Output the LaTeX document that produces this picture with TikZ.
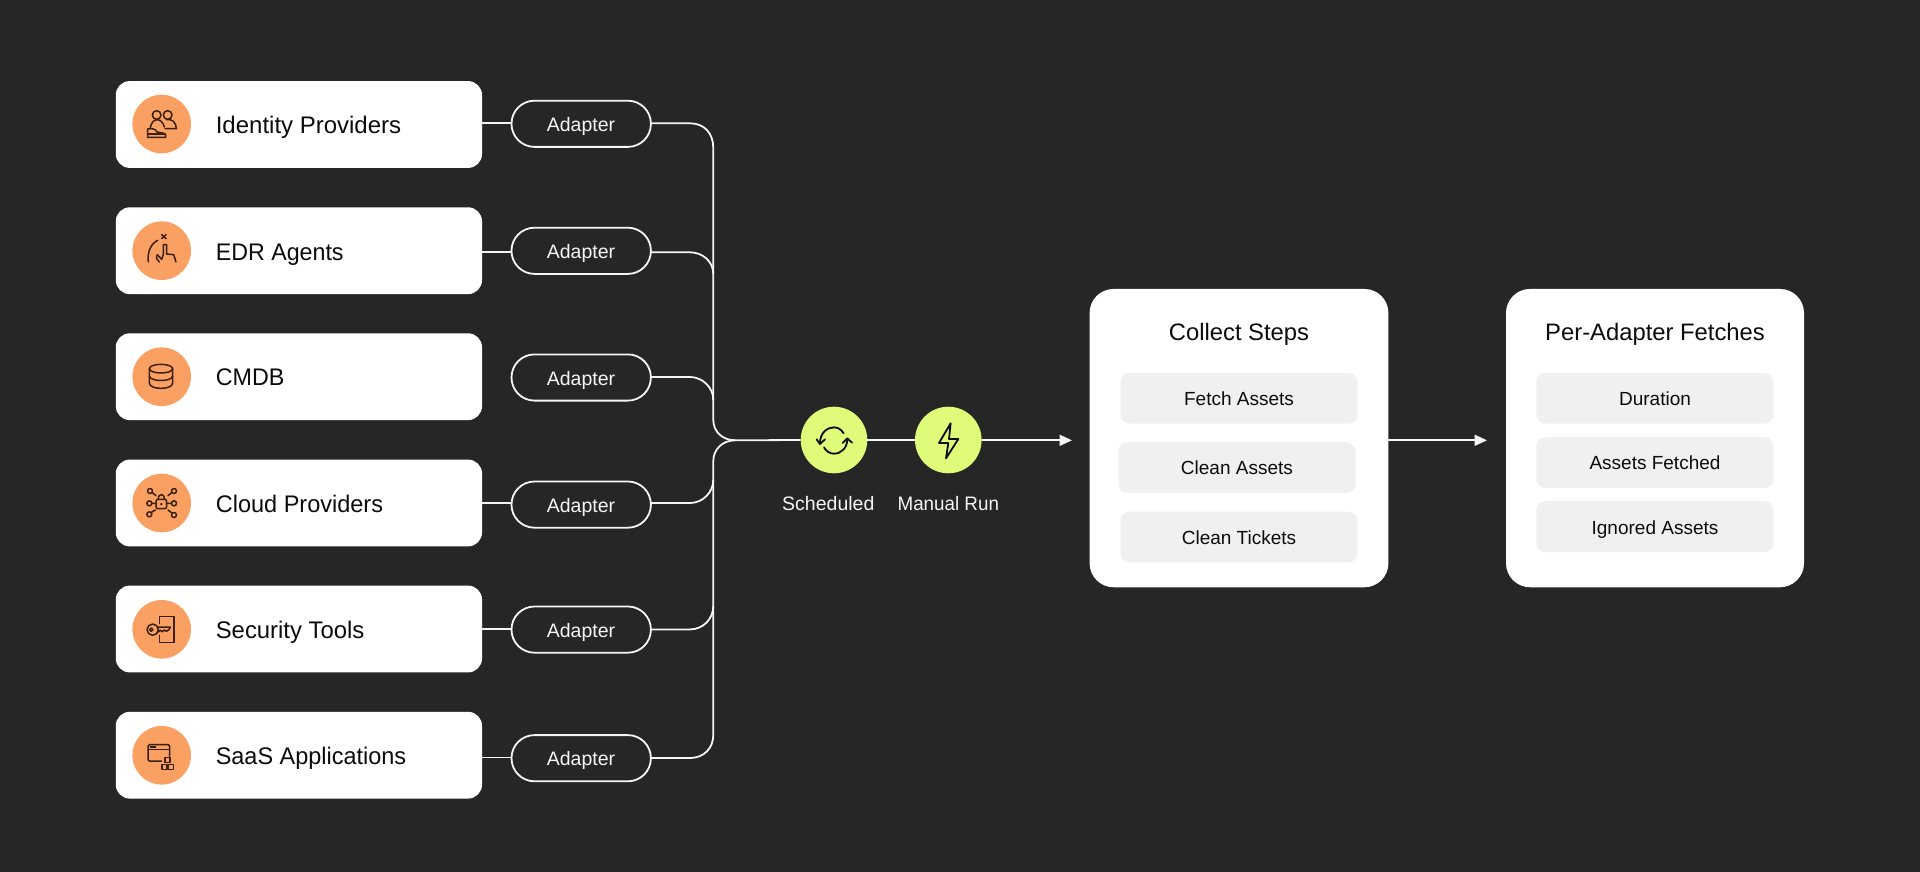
\documentclass[tikz,border=0pt]{standalone}
\usepackage{graphicx}
\usepackage{fontspec}
\setmainfont{Liberation Sans}
\usetikzlibrary{arrows.meta}
\definecolor{bgc}{RGB}{38,38,38}
\definecolor{orangec}{RGB}{250,160,98}
\definecolor{limec}{RGB}{224,250,122}
\definecolor{linec}{RGB}{245,245,245}
\definecolor{inkc}{RGB}{12,12,12}
\definecolor{brownc}{RGB}{58,32,14}
\definecolor{itemc}{RGB}{240,240,241}
\tikzset{
  card/.style={rectangle,fill=white,rounded corners=14pt,minimum width=366.3pt,minimum height=86.8pt,inner sep=0pt,outer sep=0pt},
  badge/.style={circle,fill=orangec,minimum size=58.6pt,inner sep=0pt,outer sep=0pt},
  trig/.style={circle,fill=limec,minimum size=66.6pt,inner sep=0pt,outer sep=0pt},
  pill/.style={rectangle,draw=linec,line width=1.8pt,fill=bgc,rounded corners=23pt,minimum width=139.4pt,minimum height=46.2pt,inner sep=0pt,outer sep=0pt},
  panel/.style={rectangle,fill=white,rounded corners=24pt,inner sep=0pt,outer sep=0pt},
  item/.style={rectangle,fill=itemc,rounded corners=9pt,minimum width=237pt,minimum height=50.8pt,inner sep=0pt,outer sep=0pt},
  cardtext/.style={anchor=base west,inner sep=0pt,text=inkc,font=\fontsize{24}{28}\selectfont},
  pilltext/.style={anchor=base,inner sep=0pt,text=linec,font=\fontsize{19.5}{23}\selectfont},
  trigtext/.style={anchor=base,inner sep=0pt,text=linec,font=\fontsize{19.5}{23}\selectfont},
  titletext/.style={anchor=base,inner sep=0pt,text=inkc,font=\fontsize{23.8}{27}\selectfont},
  itemtext/.style={anchor=base,inner sep=0pt,text=inkc,font=\fontsize{19}{23}\selectfont},
  link/.style={draw=linec,line width=1.8pt},
  arrowlink/.style={link,-{Triangle[length=12.5pt,width=11pt]}},
  ico/.style={draw=brownc,line width=1.5pt,line cap=round,line join=round},
  gico/.style={draw=inkc,line width=1.8pt,line cap=round,line join=round},
  crop/.style={x=.33333pt,y=-.33333pt}
}
\begin{document}
\begin{tikzpicture}[x=1pt,y=-1pt]
\useasboundingbox[fill=bgc] (0,0) rectangle (1920,872);
% cards
\node[card] (c1) at (298.9,124.5) {};
\node[card] (c2) at (298.9,250.7) {};
\node[card] (c3) at (298.9,376.7) {};
\node[card] (c4) at (298.9,503) {};
\node[card] (c5) at (298.9,629) {};
\node[card] (c6) at (298.9,755.2) {};
\node[badge] (b1) at (161.7,124) {};
\node[badge] (b2) at (161.7,250.7) {};
\node[badge] (b3) at (161.7,376.7) {};
\node[badge] (b4) at (161.7,503) {};
\node[badge] (b5) at (161.7,629.3) {};
\node[badge] (b6) at (161.7,755.3) {};
\node[cardtext] (t1) at (215.6,133.4) {Identity Providers};
\node[cardtext] (t2) at (215.6,260) {\scalebox{.968}[1]{EDR Agents}};
\node[cardtext] (t3) at (215.6,385.7) {\scalebox{.97}[1]{CMDB}};
\node[cardtext] (t4) at (215.6,512.4) {\scalebox{.98}[1]{Cloud Providers}};
\node[cardtext] (t5) at (215.6,638.4) {\scalebox{.995}[1]{Security Tools}};
\node[cardtext] (t6) at (215.6,764.4) {\scalebox{.977}[1]{SaaS Applications}};
% pills
\node[pill] (p1) at (581.2,123.8) {};
\node[pill] (p2) at (581.2,250.8) {};
\node[pill] (p3) at (581.2,377.5) {};
\node[pill] (p4) at (581.2,504.6) {};
\node[pill] (p5) at (581.2,629.6) {};
\node[pill] (p6) at (581.2,758.2) {};
\node[pilltext] (a1) at (581,131.4) {Adapter};
\node[pilltext] (a2) at (581,258.2) {Adapter};
\node[pilltext] (a3) at (581,385) {Adapter};
\node[pilltext] (a4) at (581,512) {Adapter};
\node[pilltext] (a5) at (581,637) {Adapter};
\node[pilltext] (a6) at (581,765.4) {Adapter};
% junction coordinates
\coordinate (hub) at (735,440.3);
\coordinate (tip) at (1072,440.3);
\coordinate (j1) at (690,123.3);   \coordinate (k1) at (713.3,148);
\coordinate (j2) at (690,252.3);   \coordinate (k2) at (713.3,274);
\coordinate (j3) at (690,377);     \coordinate (k3) at (713.3,400);
\coordinate (j4) at (690,503);     \coordinate (k4) at (713.3,480);
\coordinate (j5) at (690,629.4);   \coordinate (k5) at (713.3,606);
\coordinate (j6) at (690,758);     \coordinate (k6) at (713.3,735);
\coordinate (mu) at (713.3,420);   \coordinate (md) at (713.3,461);
\coordinate (s1) at (482,122.8);   \coordinate (s2) at (482,252);
\coordinate (s4) at (482,503);     \coordinate (s5) at (482,629.3);
\coordinate (s6) at (482,757.5);
% stubs
\draw[link] (s1) -- (s1 -| p1.west);
\draw[link] (s2) -- (s2 -| p2.west);
\draw[link] (s4) -- (s4 -| p4.west);
\draw[link] (s5) -- (s5 -| p5.west);
\draw[link] (s6) -- (s6 -| p6.west);
% bus
\draw[link] (j1 -| p1.east) -- (j1) .. controls +(14,0) and +(0,-15) .. (k1) -- (mu) .. controls +(0,12) and +(-12,0) .. (hub);
\draw[link] (j2 -| p2.east) -- (j2) .. controls +(12,0) and +(0,-13) .. (k2);
\draw[link] (j3 -| p3.east) -- (j3) .. controls +(12,0) and +(0,-13) .. (k3);
\draw[link] (j4 -| p4.east) -- (j4) .. controls +(13,0) and +(0,12) .. (k4);
\draw[link] (j5 -| p5.east) -- (j5) .. controls +(13,0) and +(0,13) .. (k5);
\draw[link] (j6 -| p6.east) -- (j6) .. controls +(14,0) and +(0,13) .. (k6) -- (md) .. controls +(0,-12) and +(-12,0) .. (hub);
% trigger nodes
\node[trig] (g1) at (834,440) {};
\node[trig] (g2) at (948.3,440) {};
\draw[link] (hub) -- (g1.west);
\draw[link] (g1.east) -- (g2.west);
\draw[arrowlink] (g2.east |- tip) -- (tip);
\node[trigtext] (gt1) at (828.3,510.3) {Scheduled};
\node[trigtext] (gt2) at (948.3,510.3) {\scalebox{.965}[1]{Manual Run}};
% panels
\node[panel,minimum width=298.8pt,minimum height=298.3pt] (pa) at (1239,438.1) {};
\node[panel,minimum width=298pt,minimum height=298.3pt] (pb) at (1655,438.1) {};
\draw[arrowlink] (pa.east |- tip) -- (1487,440.3);
\node[titletext] (ta) at (1239,340) {Collect Steps};
\node[titletext] (tb) at (1655,340) {Per-Adapter Fetches};
\node[item] (i1) at (1239,398.3) {};
\node[item] (i2) at (1236.9,467.6) {};
\node[item] (i3) at (1239,537) {};
\node[item] (i4) at (1654.8,398.3) {};
\node[item] (i5) at (1654.8,462.5) {};
\node[item] (i6) at (1654.8,526.6) {};
\node[itemtext] (it1) at (1239,405.3) {Fetch Assets};
\node[itemtext] (it2) at (1236.9,474.7) {Clean Assets};
\node[itemtext] (it3) at (1239,544) {Clean Tickets};
\node[itemtext] (it4) at (1655,405.3) {Duration};
\node[itemtext] (it5) at (1655,469.3) {Assets Fetched};
\node[itemtext] (it6) at (1655,534) {Ignored Assets};
% icons: identity
\begin{scope}[shift={(125,85)},crop]
\draw[ico] (95,90) circle[radius=13];
\draw[ico] (128,90) circle[radius=13];
\draw[ico] (76,128) .. controls (78,114) and (86,105) .. (96,104) .. controls (106,104) and (114,112) .. (118,126);
\draw[ico] (124,104) .. controls (140,100) and (154,112) .. (154,131) -- (120,131);
\draw[ico] (68,132) -- (68,157) -- (122,157) -- (122,150) .. controls (120,143) and (105,143) .. (96,141) .. controls (92,132) and (82,129) .. (68,132);
\draw[ico] (68,147) -- (120,147);
\end{scope}
% icons: edr
\begin{scope}[shift={(125,212)},crop]
\draw[ico] (110,68) -- (123,80) (123,68) -- (110,80);
\draw[ico] (98,85) .. controls (78,95) and (66,120) .. (70,150);
\draw[ico] (103,150) .. controls (95,146) and (92,135) .. (97,128) -- (110,142) -- (115,128) -- (115,98) -- (125,98) -- (125,126) -- (146,128) -- (153,150);
\end{scope}
% icons: cmdb
\begin{scope}[shift={(125,340)},crop]
\draw[ico] (108,86) ellipse[x radius=35,y radius=13];
\draw[ico] (73,86) -- (73,130) .. controls (75,150) and (141,150) .. (143,130) -- (143,86);
\draw[ico] (73,108) .. controls (75,126) and (141,126) .. (143,108);
\end{scope}
% icons: cloud
\begin{scope}[shift={(125,465)},crop]
\draw[ico,rounded corners=2pt] (93,103) rectangle (125,131);
\draw[ico] (99,103) .. controls (99,84) and (119,84) .. (119,103);
\fill[brownc] (109,117) circle[radius=4];
\draw[ico] (75,78) circle[radius=7.5] (147,78) circle[radius=7.5] (73,115) circle[radius=7.5] (147,115) circle[radius=7.5] (73,148) circle[radius=7.5] (147,150) circle[radius=7.5];
\draw[ico] (82,83) -- (93,92) (140,83) -- (129,92) (81,115) -- (93,115) (139,115) -- (125,115) (79,142) -- (91,135) (141,144) -- (129,135);
\end{scope}
% icons: security
\begin{scope}[shift={(125,592)},crop]
\draw[ico] (103,95) -- (103,73) -- (147,73) -- (147,152) -- (103,152) -- (103,130);
\draw[ico] (83,113) circle[radius=17];
\draw[ico] (79,113) circle[radius=5];
\draw[ico] (98,105) -- (136,105) -- (132,113) -- (124,118) -- (118,114) -- (112,119) -- (106,115) -- (99,120);
\end{scope}
% icons: saas
\begin{scope}[shift={(125,718)},crop]
\draw[ico,rounded corners=1.5pt] (134,115) -- (134,80) -- (69,80) -- (69,129) -- (110,129);
\draw[ico] (69,95) -- (134,95);
\draw[ico] (76,87) -- (92,87);
\draw[ico] (120,119) rectangle (135,134);
\draw[ico] (111,140) rectangle (126,155);
\draw[ico] (130,140) rectangle (145,155);
\end{scope}
% icons: refresh and bolt
\begin{scope}[shift={(760,390)},crop]
\draw[gico] (180,160) .. controls (180,130) and (200,112) .. (222,112) .. controls (235,112) and (245,120) .. (251,130);
\draw[gico] (170,148) -- (180,162) -- (195,148);
\draw[gico] (262,147) .. controls (262,172) and (245,191) .. (222,191) .. controls (208,191) and (198,183) .. (192,172);
\draw[gico] (248,159) -- (262,145) -- (276,158);
\draw[gico] (572,100) -- (537,159) -- (565,159) -- (558,205) -- (595,147) -- (567,147) -- cycle;
\end{scope}
\end{tikzpicture}
\end{document}
